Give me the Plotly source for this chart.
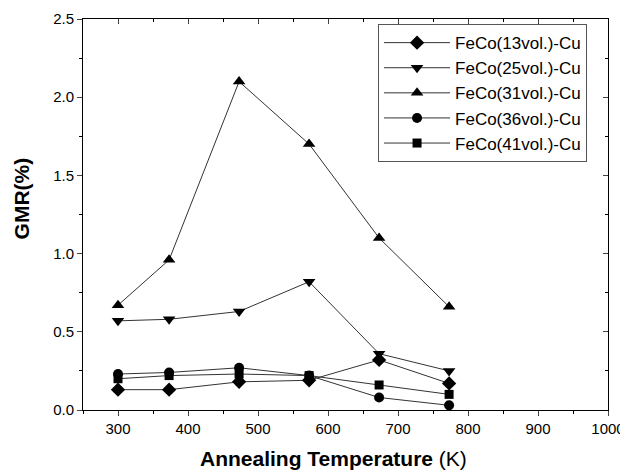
import plotly.graph_objects as go

temps = [300, 373, 473, 573, 673, 773]
fe13 = [0.13, 0.13, 0.18, 0.19, 0.32, 0.17]
fe25 = [0.57, 0.58, 0.63, 0.82, 0.36, 0.25]
fe31 = [0.67, 0.96, 2.10, 1.70, 1.10, 0.66]
fe36 = [0.23, 0.24, 0.27, 0.22, 0.08, 0.03]
fe41 = [0.20, 0.22, 0.23, 0.22, 0.16, 0.10]

names = ["FeCo(13vol.)-Cu", "FeCo(25vol.)-Cu", "FeCo(31vol.)-Cu",
         "FeCo(36vol.)-Cu", "FeCo(41vol.)-Cu"]
series = [fe13, fe25, fe31, fe36, fe41]
symbols = ["diamond", "triangle-down", "triangle-up", "circle", "square"]
sizes = [11, 11, 11, 10, 9]

x_ticks = [300, 400, 500, 600, 700, 800, 900, 1000]
x_minor = [250, 350, 450, 550, 650, 750, 850, 950]
y_ticks = [0, 0.5, 1.0, 1.5, 2.0, 2.5]
y_minor = [0.25, 0.75, 1.25, 1.75, 2.25]

fig = go.Figure()
for n, s, sym, sz in zip(names, series, symbols, sizes):
    fig.add_trace(go.Scatter(
        x=temps, y=s, name=n, mode="lines+markers",
        line=dict(color="#333333", width=1),
        marker=dict(symbol=sym, size=sz, color="black"),
    ))

font_fam = "Liberation Sans, Arial, sans-serif"
axis_common = dict(showline=True, linecolor="black", linewidth=1,
                   showgrid=False, zeroline=False, automargin=False,
                   tickfont=dict(size=15, color="black", family=font_fam))

fig.update_layout(
    width=620, height=465,
    margin=dict(l=75, r=20, t=11, b=63),
    paper_bgcolor="white", plot_bgcolor="white",
    font=dict(family=font_fam, color="black"),
    showlegend=True,
    legend=dict(x=0.562, y=0.987, xanchor="left", yanchor="top",
                bgcolor="white", bordercolor="#555555", borderwidth=1,
                font=dict(size=17, family=font_fam, color="black"),
                tracegroupgap=0, itemwidth=66),
    xaxis=dict(range=[250, 1000], tickvals=x_ticks,
               ticks="outside", ticklen=5,
               minor=dict(tickvals=x_minor, ticks="outside", ticklen=3,
                          tickcolor="black"),
               **axis_common),
    yaxis=dict(range=[0, 2.5], tickvals=y_ticks,
               tickformat=".1f", ticks="outside", ticklen=5,
               minor=dict(tickvals=y_minor, ticks="outside", ticklen=3,
                          tickcolor="black"),
               **axis_common),
    xaxis2=dict(range=[250, 1000], overlaying="x", side="top", showline=True,
                linecolor="black", linewidth=1, ticks="inside", ticklen=5,
                tickvals=x_ticks, showticklabels=False, showgrid=False,
                zeroline=False, automargin=False,
                minor=dict(tickvals=x_minor, ticks="inside", ticklen=3,
                           tickcolor="black")),
    yaxis2=dict(range=[0, 2.5], overlaying="y", side="right", showline=True,
                linecolor="black", linewidth=1, ticks="inside", ticklen=5,
                tickvals=y_ticks, showticklabels=False, showgrid=False,
                zeroline=False, automargin=False,
                minor=dict(tickvals=y_minor, ticks="inside", ticklen=3,
                           tickcolor="black")),
    annotations=[
        dict(text="<b>Annealing Temperature</b> (K)", xref="paper", yref="paper",
             x=0.478, y=-0.123, xanchor="center", yanchor="middle",
             showarrow=False, font=dict(size=21, family=font_fam, color="black")),
        dict(text="<b>GMR(%)</b>", xref="paper", yref="paper",
             x=-0.117, y=0.54, xanchor="center", yanchor="middle", textangle=-90,
             showarrow=False, font=dict(size=21, family=font_fam, color="black")),
    ],
)
fig.add_trace(go.Scatter(x=[None], y=[None], xaxis="x2", yaxis="y2",
                         showlegend=False, hoverinfo="skip"))

fig.write_html("out.html")
